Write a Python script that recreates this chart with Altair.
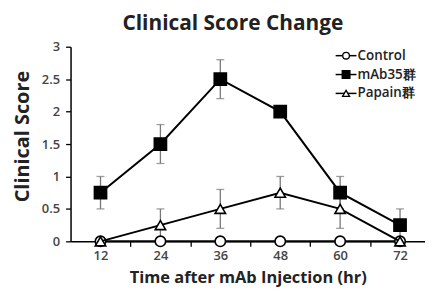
import altair as alt
import pandas as pd

hours = [12, 24, 36, 48, 60, 72]
series = ["Control", "mAb35群", "Papain群"]
control = [0, 0, 0, 0, 0, 0]
control_err = [0, 0, 0, 0, 0, 0]
mab35 = [0.75, 1.5, 2.5, 2.0, 0.75, 0.25]
mab35_err = [0.25, 0.3, 0.3, 0.0, 0.25, 0.25]
papain = [0, 0.25, 0.5, 0.75, 0.5, 0]
papain_err = [0, 0.25, 0.3, 0.25, 0.3, 0]
x_ticks = [12, 18, 24, 30, 36, 42, 48, 54, 60, 66, 72]
y_ticks = [0, 0.5, 1, 1.5, 2, 2.5, 3]

FONT = "Open Sans"

rows = []
for name, vals, errs in [(series[0], control, control_err),
                         (series[1], mab35, mab35_err),
                         (series[2], papain, papain_err)]:
    for h, v, e in zip(hours, vals, errs):
        rows.append({"series": name, "hour": h, "score": v,
                     "lo": v - e, "hi": v + e, "err": e})
df = pd.DataFrame(rows)

xs = alt.Scale(domain=[6, 77], nice=False)
ys = alt.Scale(domain=[0, 3], nice=False)

X_AXIS = alt.Axis(values=x_ticks, title="Time after mAb Injection (hr)",
                  labelExpr="datum.value % 12 == 0 ? datum.label : ''",
                  grid=False)
Y_AXIS = alt.Axis(values=y_ticks, title="Clinical Score", grid=False,
                  format="~g", labelOverlap=False, titleY=90)
X = alt.X("hour:Q", scale=xs, axis=X_AXIS)
Y = alt.Y("score:Q", scale=ys, axis=Y_AXIS)

base = alt.Chart(df)

errdf = base.transform_filter("datum.err > 0")
Xe = alt.X("hour:Q", scale=xs, axis=X_AXIS)
err_rule = errdf.mark_rule(color="#777", strokeWidth=1.3).encode(
    x=Xe, y=alt.Y("lo:Q", scale=ys, axis=Y_AXIS), y2="hi:Q")
cap_hi = errdf.mark_tick(color="#777", thickness=1.3, size=8, orient="horizontal").encode(
    x=Xe, y=alt.Y("hi:Q", scale=ys, axis=Y_AXIS))
cap_lo = errdf.mark_tick(color="#777", thickness=1.3, size=8, orient="horizontal").encode(
    x=Xe, y=alt.Y("lo:Q", scale=ys, axis=Y_AXIS))

layers = [err_rule, cap_hi, cap_lo]

styles = {
    series[0]: dict(shape="circle", fill="white", size=110),
    series[1]: dict(shape="square", fill="black", size=150),
    series[2]: dict(shape="triangle-up", fill="white", size=110),
}

for name in series:
    st = styles[name]
    sub = base.transform_filter(alt.datum.series == name)
    line = sub.mark_line(color="black", strokeWidth=2).encode(x=X, y=Y)
    pts = sub.mark_point(shape=st["shape"], filled=False, fill=st["fill"],
                         stroke="black", strokeWidth=1.6, size=st["size"],
                         opacity=1).encode(x=X, y=Y)
    layers += [line, pts]

# legend
leg_y = [9, 28, 47]
leg_sizes = {series[0]: 45, series[1]: 60, series[2]: 50}
legdf = pd.DataFrame({"series": series})
for name, yy in zip(series, leg_y):
    st = styles[name]
    lsub = alt.Chart(legdf).transform_filter(alt.datum.series == name)
    layers.append(lsub.mark_rule(color="black", strokeWidth=1.5).encode(
        x=alt.value(267), x2=alt.value(288), y=alt.value(yy)))
    layers.append(lsub.mark_point(shape=st["shape"], filled=False, fill=st["fill"],
                                  stroke="black", strokeWidth=1.3,
                                  size=leg_sizes[name], opacity=1).encode(
        x=alt.value(277.5), y=alt.value(yy)))
    layers.append(lsub.mark_text(align="left", baseline="middle", font=FONT,
                                 fontSize=13.5, fontWeight=600, color="#222").encode(
        x=alt.value(289), y=alt.value(yy), text="series:N"))

chart = alt.layer(*layers).properties(
    width=357, height=196,
    title=alt.TitleParams("Clinical Score Change", font=FONT, fontSize=21,
                          fontWeight="bold", color="#222", anchor="middle",
                          dx=-15, offset=7),
    autosize=alt.AutoSizeParams(type="none"),
    padding={"left": 63, "top": 38, "right": 0, "bottom": 48},
).configure_view(stroke=None).configure_axis(
    domainColor="black", domainWidth=1.5, tickColor="black", tickWidth=1.3,
    tickSize=5, labelFont=FONT, labelFontSize=13, labelFontWeight=600,
    labelColor="#444",
    titleFont=FONT, titleFontSize=16.5, titleFontWeight="bold", titleColor="#222",
    labelPadding=3,
).configure_axisY(titlePadding=9, labelPadding=6, titleFontSize=20).configure_axisX(
    titlePadding=7, labelFlush=False)

chart.save("out.html", embed_options={"renderer": "svg", "actions": False})
